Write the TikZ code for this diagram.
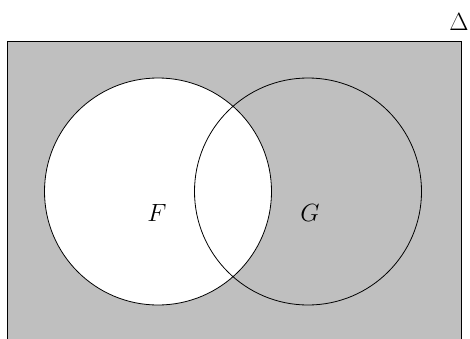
\documentclass[tikz,border=0pt]{standalone}
\begin{document}
\begin{tikzpicture}[x=1pt,y=1pt,
  setcircle/.style={circle,draw=black,line width=0.8pt,minimum size=227pt,inner sep=0pt},
  bigtext/.style={font=\fontsize{28}{32}\selectfont,inner sep=0pt}]
\useasboundingbox (0,0) rectangle (470,338);
\clip (0,0) rectangle (470,338);
\draw[fill=black!25,line width=0.8pt] (7,-5) rectangle (461,297);
\node[setcircle,fill=white] (F) at (158,146.5) {};
\node[setcircle] (G) at (308,146.5) {};
\node[bigtext] (Flab) at (157,125) {$F$};
\node[bigtext] (Glab) at (310,125) {$G$};
\node[bigtext] (D) at (459,316) {$\Delta$};
\end{tikzpicture}
\end{document}
